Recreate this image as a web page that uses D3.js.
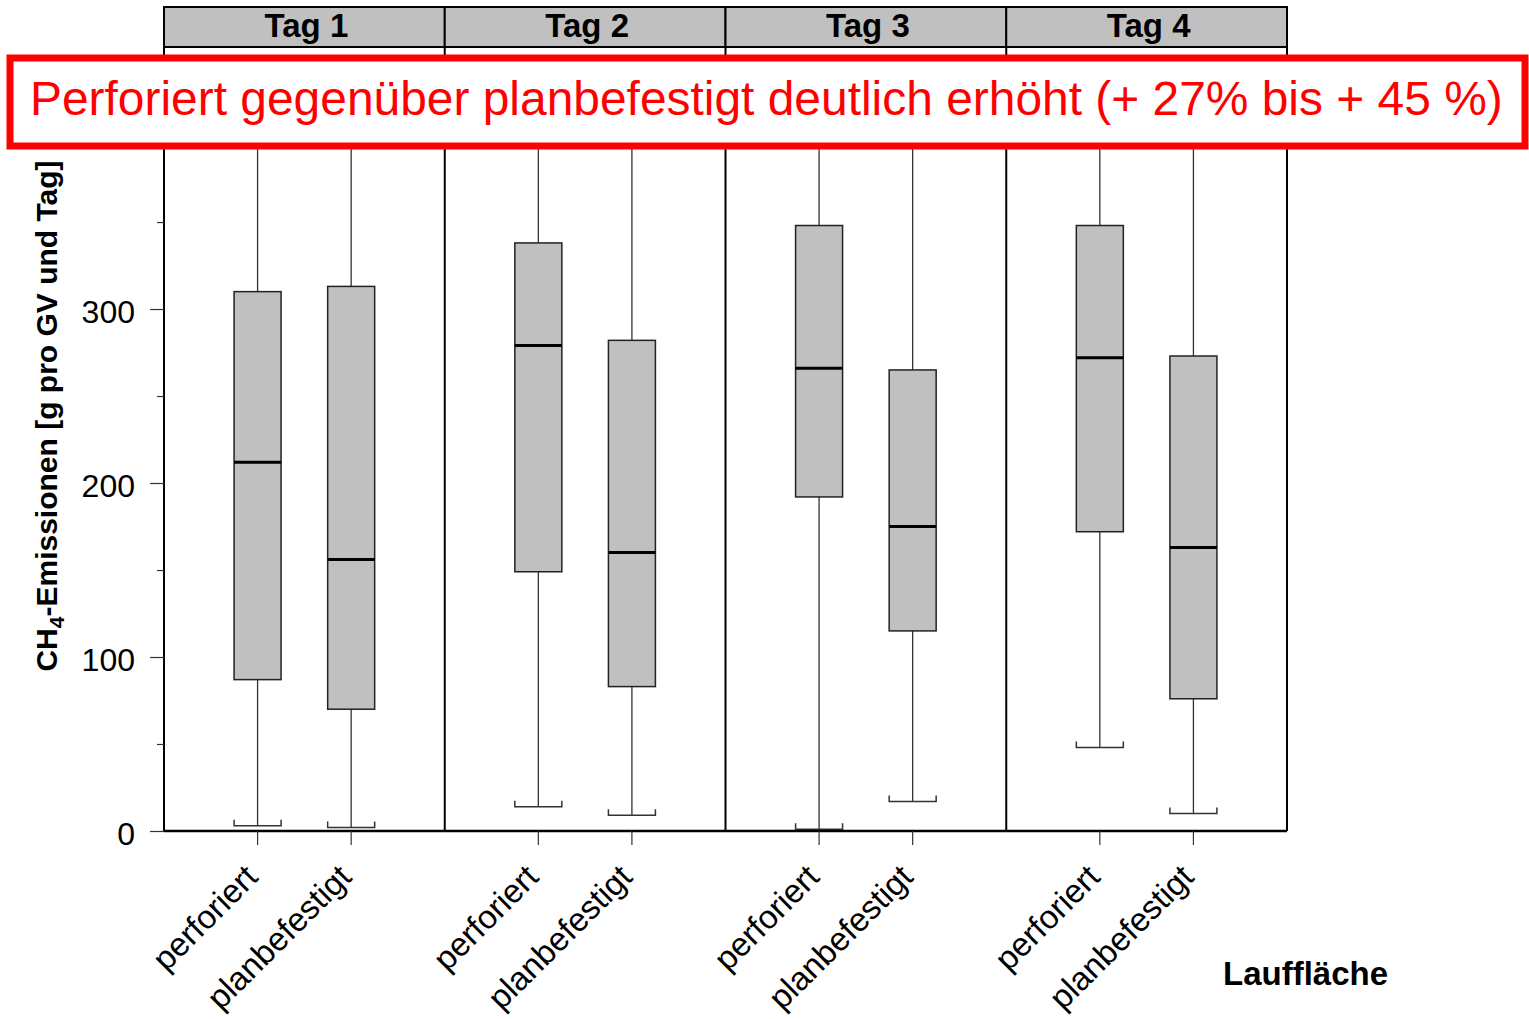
<!DOCTYPE html>
<html>
<head>
<meta charset="utf-8">
<script src="https://cdn.jsdelivr.net/npm/d3@7"></script>
<style>
  html, body { margin: 0; padding: 0; background: #fff; }
  svg { display: block; font-family: "Liberation Sans", Arial, sans-serif; }
</style>
</head>
<body>
<svg id="chart" width="1529" height="1019"></svg>
<script>
// ---- data ----
const days = ["Tag 1", "Tag 2", "Tag 3", "Tag 4"];
const categories = ["perforiert", "planbefestigt"];
// per day, for each category
const perfMin = [3, 14, 1, 48];
const perfQ1  = [87, 149, 192, 172];
const perfMed = [212, 279, 266, 272];
const perfQ3  = [310, 338, 348, 348];
const perfMax = [425, 430, 440, 435];
const planMin = [2, 9, 17, 10];
const planQ1  = [70, 83, 115, 76];
const planMed = [156, 160, 175, 163];
const planQ3  = [313, 282, 265, 273];
const planMax = [420, 415, 430, 425];
const yMajorTicks = [0, 100, 200, 300, 400];
const yMinorTicks = [50, 150, 250, 350];
const bannerText = "Perforiert gegenüber planbefestigt deutlich erhöht (+ 27% bis + 45 %)";

const series = {
  "perforiert":   {min: perfMin, q1: perfQ1, med: perfMed, q3: perfQ3, max: perfMax},
  "planbefestigt":{min: planMin, q1: planQ1, med: planMed, q3: planQ3, max: planMax}
};
const boxes = [];
days.forEach((d, i) => categories.forEach(c => {
  const s = series[c];
  boxes.push({day: d, cat: c, min: s.min[i], q1: s.q1[i], med: s.med[i], q3: s.q3[i], max: s.max[i]});
}));

// ---- layout ----
const svg = d3.select("#chart");
const pLeft = 164, pRight = 1287, pTop = 47, pBottom = 831;
const x0 = d3.scaleBand().domain(days).range([pLeft, pRight]).paddingInner(0).paddingOuter(0);
const x1 = d3.scalePoint().domain(categories).range([0, x0.bandwidth()]).padding(1);
const y = d3.scaleLinear().domain([0, 450.6]).range([pBottom, pTop]);
const boxW = 47;

// strips
const strip = svg.append("g");
strip.selectAll("rect").data(days).join("rect")
  .attr("x", d => x0(d)).attr("y", 7).attr("width", x0.bandwidth()).attr("height", 40)
  .attr("fill", "#c0c0c0").attr("stroke", "#000").attr("stroke-width", 2);
strip.selectAll("text").data(days).join("text")
  .attr("x", d => x0(d) + x0.bandwidth() / 2 + 2).attr("y", 37)
  .attr("text-anchor", "middle").attr("font-size", 33).attr("font-weight", "bold")
  .text(d => d);

// whiskers and boxes
const g = svg.append("g");
const bx = d => x0(d.day) + x1(d.cat);
g.selectAll("line.wh").data(boxes).join("line").attr("class", "wh")
  .attr("x1", bx).attr("x2", bx).attr("y1", d => y(d.min)).attr("y2", d => y(d.max))
  .attr("stroke", "#333").attr("stroke-width", 1.3);
// lower caps (bracket with upward ends)
g.selectAll("path.capl").data(boxes).join("path").attr("class", "capl")
  .attr("d", d => `M${bx(d) - boxW/2},${y(d.min) - 6}V${y(d.min)}H${bx(d) + boxW/2}V${y(d.min) - 6}`)
  .attr("fill", "none").attr("stroke", "#333").attr("stroke-width", 1.5);
// upper caps
g.selectAll("path.caph").data(boxes).join("path").attr("class", "caph")
  .attr("d", d => `M${bx(d) - boxW/2},${y(d.max) + 6}V${y(d.max)}H${bx(d) + boxW/2}V${y(d.max) + 6}`)
  .attr("fill", "none").attr("stroke", "#333").attr("stroke-width", 1.5);
g.selectAll("rect.box").data(boxes).join("rect").attr("class", "box")
  .attr("x", d => bx(d) - boxW/2).attr("width", boxW)
  .attr("y", d => y(d.q3)).attr("height", d => y(d.q1) - y(d.q3))
  .attr("fill", "#c0c0c0").attr("stroke", "#222").attr("stroke-width", 1.5);
g.selectAll("line.med").data(boxes).join("line").attr("class", "med")
  .attr("x1", d => bx(d) - boxW/2).attr("x2", d => bx(d) + boxW/2)
  .attr("y1", d => y(d.med)).attr("y2", d => y(d.med))
  .attr("stroke", "#000").attr("stroke-width", 3);

// panel borders
svg.append("g").selectAll("line").data(days.concat(["end"])).join("line")
  .attr("x1", d => d === "end" ? pRight : x0(d)).attr("x2", d => d === "end" ? pRight : x0(d))
  .attr("y1", pTop).attr("y2", pBottom).attr("stroke", "#000").attr("stroke-width", 2);
svg.append("line").attr("x1", pLeft).attr("x2", pRight).attr("y1", pBottom).attr("y2", pBottom)
  .attr("stroke", "#000").attr("stroke-width", 2.5);

// y axis
const yAxis = svg.append("g").attr("transform", `translate(${pLeft},0)`)
  .call(d3.axisLeft(y).tickValues(yMajorTicks).tickSize(14).tickPadding(15).tickFormat(d3.format("d")));
yAxis.select(".domain").remove();
yAxis.selectAll("line").attr("stroke", "#333").attr("stroke-width", 1.2);
yAxis.selectAll("text").attr("font-size", 32).attr("fill", "#000")
  .attr("font-family", "Liberation Sans, Arial, sans-serif").attr("dy", "0.42em");
const yMinor = svg.append("g").attr("transform", `translate(${pLeft},0)`)
  .call(d3.axisLeft(y).tickValues(yMinorTicks).tickSize(7).tickFormat(""));
yMinor.select(".domain").remove();
yMinor.selectAll("line").attr("stroke", "#333").attr("stroke-width", 1.2);

// x ticks and labels
const xl = svg.append("g");
xl.selectAll("line").data(boxes).join("line")
  .attr("x1", bx).attr("x2", bx).attr("y1", pBottom).attr("y2", pBottom + 14)
  .attr("stroke", "#333").attr("stroke-width", 1.2);
xl.selectAll("text").data(boxes).join("text")
  .attr("transform", d => `translate(${bx(d) + 2},${pBottom + 48}) rotate(-45)`)
  .attr("text-anchor", "end").attr("font-size", 33).text(d => d.cat);

// axis titles
const yt = svg.append("text")
  .attr("transform", "translate(57,416) rotate(-90)")
  .attr("text-anchor", "middle").attr("font-size", 30).attr("font-weight", "bold");
yt.append("tspan").text("CH");
yt.append("tspan").attr("font-size", 21).attr("dy", 7).text("4");
yt.append("tspan").attr("dy", -7).text("-Emissionen [g pro GV und Tag]");

svg.append("text").attr("x", 1223).attr("y", 985).attr("font-size", 33).attr("font-weight", "bold")
  .text("Lauffläche");

// banner
svg.append("rect").attr("x", 10).attr("y", 58).attr("width", 1515).attr("height", 88)
  .attr("fill", "#fff").attr("stroke", "#ff0000").attr("stroke-width", 7);
const bt = svg.append("text").attr("x", 30).attr("y", 115).attr("fill", "#ff0000")
  .attr("font-size", 46).text(bannerText);
const w = bt.node().getComputedTextLength();
bt.attr("font-size", 46 * 1473 / w);
</script>
</body>
</html>
